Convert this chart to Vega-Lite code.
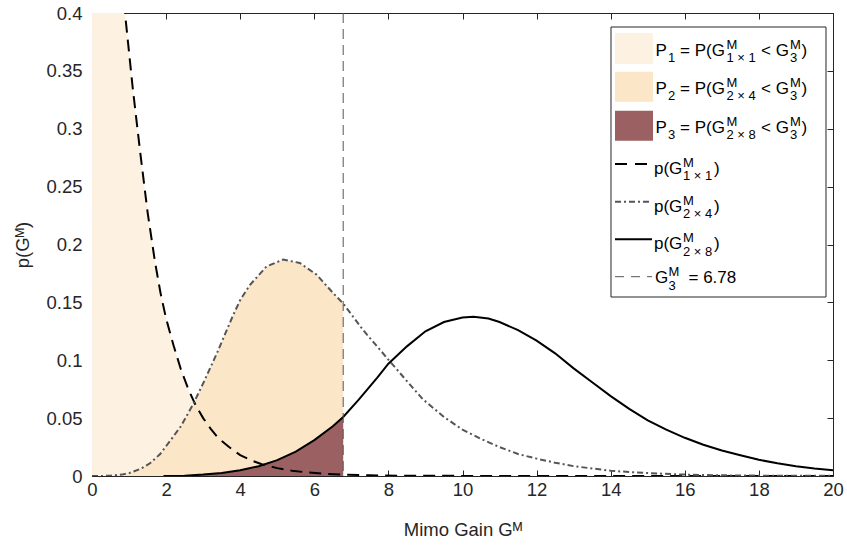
{
  "$schema": "https://vega.github.io/schema/vega-lite/v6.json",
  "width": 741,
  "height": 463,
  "autosize": {"type": "none"},
  "padding": {"left": 92, "top": 13, "right": 14, "bottom": 70},
  "background": "white",
  "config": {
    "font": "Liberation Sans",
    "view": {"stroke": null},
    "text": {"align": "left", "baseline": "alphabetic", "font": "Liberation Sans", "fontSize": 17, "color": "#000000"},
    "axis": {"grid": false, "domainColor": "#262626", "tickColor": "#262626", "labelColor": "#262626", "titleColor": "#262626", "labelFontSize": 18.5, "titleFontSize": 18.5, "titleFontWeight": "normal", "labelFont": "Liberation Sans", "titleFont": "Liberation Sans"}
  },
  "datasets": {
    "curves": [
      {"s": "L1", "x": 0, "y": 1.0},
      {"s": "L1", "x": 0.3, "y": 0.74},
      {"s": "L1", "x": 0.6, "y": 0.55},
      {"s": "L1", "x": 0.89, "y": 0.40},
      {"s": "L1", "x": 1.1, "y": 0.335},
      {"s": "L1", "x": 1.3, "y": 0.28},
      {"s": "L1", "x": 1.5, "y": 0.228},
      {"s": "L1", "x": 1.7, "y": 0.185},
      {"s": "L1", "x": 1.85, "y": 0.158},
      {"s": "L1", "x": 2.0, "y": 0.136},
      {"s": "L1", "x": 2.2, "y": 0.113},
      {"s": "L1", "x": 2.4, "y": 0.092},
      {"s": "L1", "x": 2.6, "y": 0.075},
      {"s": "L1", "x": 2.8, "y": 0.061},
      {"s": "L1", "x": 3.0, "y": 0.050},
      {"s": "L1", "x": 3.2, "y": 0.041},
      {"s": "L1", "x": 3.4, "y": 0.033},
      {"s": "L1", "x": 3.7, "y": 0.025},
      {"s": "L1", "x": 4.0, "y": 0.018},
      {"s": "L1", "x": 4.3, "y": 0.0135},
      {"s": "L1", "x": 4.6, "y": 0.010},
      {"s": "L1", "x": 5.0, "y": 0.0068},
      {"s": "L1", "x": 5.4, "y": 0.0046},
      {"s": "L1", "x": 5.8, "y": 0.0031},
      {"s": "L1", "x": 6.3, "y": 0.0019},
      {"s": "L1", "x": 6.78, "y": 0.0012},
      {"s": "L1", "x": 7.5, "y": 0.0006},
      {"s": "L1", "x": 8.5, "y": 0.0002},
      {"s": "L1", "x": 10, "y": 0.0001},
      {"s": "L1", "x": 12, "y": 0},
      {"s": "L1", "x": 14, "y": 0},
      {"s": "L1", "x": 16, "y": 0},
      {"s": "L1", "x": 18, "y": 0},
      {"s": "L1", "x": 20, "y": 0},
      {"s": "L2", "x": 0, "y": 0},
      {"s": "L2", "x": 0.3, "y": 0},
      {"s": "L2", "x": 0.5, "y": 0.0003},
      {"s": "L2", "x": 0.8, "y": 0.0012},
      {"s": "L2", "x": 1.0, "y": 0.0025},
      {"s": "L2", "x": 1.3, "y": 0.006},
      {"s": "L2", "x": 1.565, "y": 0.011},
      {"s": "L2", "x": 1.84, "y": 0.019},
      {"s": "L2", "x": 2.1, "y": 0.030},
      {"s": "L2", "x": 2.4, "y": 0.043},
      {"s": "L2", "x": 2.73, "y": 0.062},
      {"s": "L2", "x": 3.0, "y": 0.080},
      {"s": "L2", "x": 3.37, "y": 0.106},
      {"s": "L2", "x": 3.81, "y": 0.139},
      {"s": "L2", "x": 4.0, "y": 0.152},
      {"s": "L2", "x": 4.26, "y": 0.165},
      {"s": "L2", "x": 4.71, "y": 0.181},
      {"s": "L2", "x": 5.16, "y": 0.187},
      {"s": "L2", "x": 5.61, "y": 0.184},
      {"s": "L2", "x": 6.06, "y": 0.174},
      {"s": "L2", "x": 6.51, "y": 0.158},
      {"s": "L2", "x": 6.78, "y": 0.149},
      {"s": "L2", "x": 7.32, "y": 0.126},
      {"s": "L2", "x": 8.04, "y": 0.099},
      {"s": "L2", "x": 8.5, "y": 0.082},
      {"s": "L2", "x": 8.94, "y": 0.066},
      {"s": "L2", "x": 9.5, "y": 0.051},
      {"s": "L2", "x": 10.0, "y": 0.040},
      {"s": "L2", "x": 10.5, "y": 0.032},
      {"s": "L2", "x": 11.0, "y": 0.025},
      {"s": "L2", "x": 11.5, "y": 0.019},
      {"s": "L2", "x": 12.0, "y": 0.015},
      {"s": "L2", "x": 12.5, "y": 0.0115},
      {"s": "L2", "x": 13.0, "y": 0.0085},
      {"s": "L2", "x": 14.0, "y": 0.0045},
      {"s": "L2", "x": 15.0, "y": 0.0025},
      {"s": "L2", "x": 16.0, "y": 0.0012},
      {"s": "L2", "x": 17.0, "y": 0.0006},
      {"s": "L2", "x": 18.0, "y": 0.0003},
      {"s": "L2", "x": 20.0, "y": 0.0001},
      {"s": "L3", "x": 1.93, "y": 0},
      {"s": "L3", "x": 2.5, "y": 0.0003},
      {"s": "L3", "x": 3.0, "y": 0.0012},
      {"s": "L3", "x": 3.5, "y": 0.0025},
      {"s": "L3", "x": 4.0, "y": 0.0050},
      {"s": "L3", "x": 4.5, "y": 0.0085},
      {"s": "L3", "x": 5.0, "y": 0.0137},
      {"s": "L3", "x": 5.5, "y": 0.021},
      {"s": "L3", "x": 6.0, "y": 0.031},
      {"s": "L3", "x": 6.5, "y": 0.043},
      {"s": "L3", "x": 6.78, "y": 0.051},
      {"s": "L3", "x": 7.2, "y": 0.066},
      {"s": "L3", "x": 7.7, "y": 0.085},
      {"s": "L3", "x": 8.0, "y": 0.097},
      {"s": "L3", "x": 8.5, "y": 0.112},
      {"s": "L3", "x": 9.0, "y": 0.125},
      {"s": "L3", "x": 9.5, "y": 0.133},
      {"s": "L3", "x": 10.0, "y": 0.137},
      {"s": "L3", "x": 10.3, "y": 0.1375},
      {"s": "L3", "x": 10.7, "y": 0.136},
      {"s": "L3", "x": 11.0, "y": 0.133},
      {"s": "L3", "x": 11.5, "y": 0.126},
      {"s": "L3", "x": 12.0, "y": 0.117},
      {"s": "L3", "x": 12.5, "y": 0.106},
      {"s": "L3", "x": 13.0, "y": 0.093},
      {"s": "L3", "x": 13.5, "y": 0.081},
      {"s": "L3", "x": 14.0, "y": 0.069},
      {"s": "L3", "x": 14.5, "y": 0.058},
      {"s": "L3", "x": 15.0, "y": 0.048},
      {"s": "L3", "x": 15.5, "y": 0.040},
      {"s": "L3", "x": 16.0, "y": 0.033},
      {"s": "L3", "x": 16.5, "y": 0.027},
      {"s": "L3", "x": 17.0, "y": 0.022},
      {"s": "L3", "x": 17.5, "y": 0.018},
      {"s": "L3", "x": 18.0, "y": 0.014},
      {"s": "L3", "x": 18.5, "y": 0.011},
      {"s": "L3", "x": 19.0, "y": 0.0085},
      {"s": "L3", "x": 19.5, "y": 0.0065},
      {"s": "L3", "x": 20.0, "y": 0.005}
    ]
  },
  "data": {"name": "curves"},
  "layer": [
    {
      "transform": [{"filter": "datum.s == 'L1' && datum.x <= 6.78"}],
      "mark": {"type": "area", "clip": true, "color": "#fdf1e1"},
      "encoding": {
        "x": {"field": "x", "type": "quantitative", "scale": {"domain": [0, 20], "nice": false, "zero": false},
          "axis": {"orient": "bottom", "values": [0, 2, 4, 6, 8, 10, 12, 14, 16, 18, 20], "tickSize": -6, "labelPadding": 10, "labelFlush": false, "title": "Mimo Gain Gᴹ", "titlePadding": 22}},
        "y": {"field": "y", "type": "quantitative", "stack": null, "scale": {"domain": [0, 0.4], "nice": false},
          "axis": {"orient": "left", "values": [0, 0.05, 0.1, 0.15, 0.2, 0.25, 0.3, 0.35, 0.4], "format": ".2~f", "tickSize": -6, "labelPadding": 16, "labelFlush": false, "title": "p(Gᴹ)", "titlePadding": 13}}
      }
    },
    {
      "transform": [{"filter": "datum.s == 'L2' && datum.x <= 6.78"}],
      "mark": {"type": "area", "clip": true, "color": "#fbe6c8"},
      "encoding": {
        "x": {"field": "x", "type": "quantitative",
          "axis": {"orient": "top", "values": [0, 2, 4, 6, 8, 10, 12, 14, 16, 18, 20], "tickSize": -6, "labels": false, "title": null}},
        "y": {"field": "y", "type": "quantitative", "stack": null,
          "axis": {"orient": "right", "values": [0, 0.05, 0.1, 0.15, 0.2, 0.25, 0.3, 0.35, 0.4], "tickSize": -6, "labels": false, "title": null}}
      }
    },
    {
      "transform": [{"filter": "datum.s == 'L3' && datum.x <= 6.78"}],
      "mark": {"type": "area", "clip": true, "color": "#9a6062"},
      "encoding": {
        "x": {"field": "x", "type": "quantitative", "axis": null},
        "y": {"field": "y", "type": "quantitative", "stack": null, "axis": null}
      }
    },
    {
      "transform": [{"filter": "datum.s == 'L1'"}],
      "mark": {"type": "line", "clip": true, "color": "#000000", "strokeWidth": 2, "strokeDash": [12, 7]},
      "encoding": {
        "x": {"field": "x", "type": "quantitative", "axis": null},
        "y": {"field": "y", "type": "quantitative", "axis": null}
      }
    },
    {
      "transform": [{"filter": "datum.s == 'L2'"}],
      "mark": {"type": "line", "clip": true, "color": "#555555", "strokeWidth": 2, "strokeDash": [6, 3, 2, 3]},
      "encoding": {
        "x": {"field": "x", "type": "quantitative", "axis": null},
        "y": {"field": "y", "type": "quantitative", "axis": null}
      }
    },
    {
      "transform": [{"filter": "datum.s == 'L3'"}],
      "mark": {"type": "line", "clip": true, "color": "#000000", "strokeWidth": 2},
      "encoding": {
        "x": {"field": "x", "type": "quantitative", "axis": null},
        "y": {"field": "y", "type": "quantitative", "axis": null}
      }
    },
    {
      "data": {"values": [{}]},
      "encoding": {"x": {"datum": 15.1417, "type": "quantitative", "axis": null}},
      "layer": [
        {"mark": {"type": "rule", "color": "#555555", "strokeWidth": 1, "strokeDash": [10, 6]},
         "encoding": {"x": {"datum": 6.78, "type": "quantitative", "axis": null}}},
        {"mark": {"type": "rect", "fill": "#ffffff", "stroke": "#262626", "strokeWidth": 1},
         "encoding": {"x": {"datum": 14.008, "type": "quantitative", "axis": null}, "x2": {"datum": 19.811},
                      "y": {"datum": 0.3879, "type": "quantitative", "axis": null}, "y2": {"datum": 0.15464}}},
        {"mark": {"type": "rect", "fill": "#fdf1e1"},
         "encoding": {"x": {"datum": 14.116, "type": "quantitative", "axis": null}, "x2": {"datum": 15.142},
                      "y": {"datum": 0.38272, "type": "quantitative", "axis": null}, "y2": {"datum": 0.35594}}},
        {"mark": {"type": "rect", "fill": "#fbe6c8"},
         "encoding": {"x": {"datum": 14.116, "type": "quantitative", "axis": null}, "x2": {"datum": 15.142},
                      "y": {"datum": 0.34929, "type": "quantitative", "axis": null}, "y2": {"datum": 0.32337}}},
        {"mark": {"type": "rect", "fill": "#9a6062"},
         "encoding": {"x": {"datum": 14.116, "type": "quantitative", "axis": null}, "x2": {"datum": 15.142},
                      "y": {"datum": 0.3156, "type": "quantitative", "axis": null}, "y2": {"datum": 0.28968}}},
        {"mark": {"type": "rule", "color": "#000000", "strokeWidth": 2, "strokeDash": [12, 8]},
         "encoding": {"x": {"datum": 14.116, "type": "quantitative", "axis": null}, "x2": {"datum": 15.115},
                      "y": {"datum": 0.26955, "type": "quantitative", "axis": null}}},
        {"mark": {"type": "rule", "color": "#555555", "strokeWidth": 2, "strokeDash": [6, 3, 2, 3]},
         "encoding": {"x": {"datum": 14.116, "type": "quantitative", "axis": null}, "x2": {"datum": 15.115},
                      "y": {"datum": 0.23698, "type": "quantitative", "axis": null}}},
        {"mark": {"type": "rule", "color": "#000000", "strokeWidth": 2},
         "encoding": {"x": {"datum": 14.116, "type": "quantitative", "axis": null}, "x2": {"datum": 15.115},
                      "y": {"datum": 0.20449, "type": "quantitative", "axis": null}}},
        {"mark": {"type": "rule", "color": "#555555", "strokeWidth": 1, "strokeDash": [9, 7]},
         "encoding": {"x": {"datum": 14.116, "type": "quantitative", "axis": null}, "x2": {"datum": 15.115},
                      "y": {"datum": 0.17218, "type": "quantitative", "axis": null}}},

        {"mark": {"type": "text", "text": "P", "dx": 2.5}, "encoding": {"y": {"datum": 0.36328, "type": "quantitative", "axis": null}}},
        {"mark": {"type": "text", "text": "1", "dx": 15, "dy": 6.5, "fontSize": 13}, "encoding": {"y": {"datum": 0.36328, "type": "quantitative", "axis": null}}},
        {"mark": {"type": "text", "text": "= P(G", "dx": 27}, "encoding": {"y": {"datum": 0.36328, "type": "quantitative", "axis": null}}},
        {"mark": {"type": "text", "text": "M", "dx": 73.5, "dy": -7, "fontSize": 13}, "encoding": {"y": {"datum": 0.36328, "type": "quantitative", "axis": null}}},
        {"mark": {"type": "text", "text": "1 × 1", "dx": 73.5, "dy": 6.5, "fontSize": 13}, "encoding": {"y": {"datum": 0.36328, "type": "quantitative", "axis": null}}},
        {"mark": {"type": "text", "text": "< G", "dx": 108}, "encoding": {"y": {"datum": 0.36328, "type": "quantitative", "axis": null}}},
        {"mark": {"type": "text", "text": "M", "dx": 137, "dy": -7, "fontSize": 13}, "encoding": {"y": {"datum": 0.36328, "type": "quantitative", "axis": null}}},
        {"mark": {"type": "text", "text": "3", "dx": 137, "dy": 6.5, "fontSize": 13}, "encoding": {"y": {"datum": 0.36328, "type": "quantitative", "axis": null}}},
        {"mark": {"type": "text", "text": ")", "dx": 148.5}, "encoding": {"y": {"datum": 0.36328, "type": "quantitative", "axis": null}}},

        {"mark": {"type": "text", "text": "P", "dx": 2.5}, "encoding": {"y": {"datum": 0.33028, "type": "quantitative", "axis": null}}},
        {"mark": {"type": "text", "text": "2", "dx": 15, "dy": 6.5, "fontSize": 13}, "encoding": {"y": {"datum": 0.33028, "type": "quantitative", "axis": null}}},
        {"mark": {"type": "text", "text": "= P(G", "dx": 27}, "encoding": {"y": {"datum": 0.33028, "type": "quantitative", "axis": null}}},
        {"mark": {"type": "text", "text": "M", "dx": 73.5, "dy": -7, "fontSize": 13}, "encoding": {"y": {"datum": 0.33028, "type": "quantitative", "axis": null}}},
        {"mark": {"type": "text", "text": "2 × 4", "dx": 73.5, "dy": 6.5, "fontSize": 13}, "encoding": {"y": {"datum": 0.33028, "type": "quantitative", "axis": null}}},
        {"mark": {"type": "text", "text": "< G", "dx": 108}, "encoding": {"y": {"datum": 0.33028, "type": "quantitative", "axis": null}}},
        {"mark": {"type": "text", "text": "M", "dx": 137, "dy": -7, "fontSize": 13}, "encoding": {"y": {"datum": 0.33028, "type": "quantitative", "axis": null}}},
        {"mark": {"type": "text", "text": "3", "dx": 137, "dy": 6.5, "fontSize": 13}, "encoding": {"y": {"datum": 0.33028, "type": "quantitative", "axis": null}}},
        {"mark": {"type": "text", "text": ")", "dx": 148.5}, "encoding": {"y": {"datum": 0.33028, "type": "quantitative", "axis": null}}},

        {"mark": {"type": "text", "text": "P", "dx": 2.5}, "encoding": {"y": {"datum": 0.29659, "type": "quantitative", "axis": null}}},
        {"mark": {"type": "text", "text": "3", "dx": 15, "dy": 6.5, "fontSize": 13}, "encoding": {"y": {"datum": 0.29659, "type": "quantitative", "axis": null}}},
        {"mark": {"type": "text", "text": "= P(G", "dx": 27}, "encoding": {"y": {"datum": 0.29659, "type": "quantitative", "axis": null}}},
        {"mark": {"type": "text", "text": "M", "dx": 73.5, "dy": -7, "fontSize": 13}, "encoding": {"y": {"datum": 0.29659, "type": "quantitative", "axis": null}}},
        {"mark": {"type": "text", "text": "2 × 8", "dx": 73.5, "dy": 6.5, "fontSize": 13}, "encoding": {"y": {"datum": 0.29659, "type": "quantitative", "axis": null}}},
        {"mark": {"type": "text", "text": "< G", "dx": 108}, "encoding": {"y": {"datum": 0.29659, "type": "quantitative", "axis": null}}},
        {"mark": {"type": "text", "text": "M", "dx": 137, "dy": -7, "fontSize": 13}, "encoding": {"y": {"datum": 0.29659, "type": "quantitative", "axis": null}}},
        {"mark": {"type": "text", "text": "3", "dx": 137, "dy": 6.5, "fontSize": 13}, "encoding": {"y": {"datum": 0.29659, "type": "quantitative", "axis": null}}},
        {"mark": {"type": "text", "text": ")", "dx": 148.5}, "encoding": {"y": {"datum": 0.29659, "type": "quantitative", "axis": null}}},

        {"mark": {"type": "text", "text": "p(G", "dx": 1}, "encoding": {"y": {"datum": 0.26091, "type": "quantitative", "axis": null}}},
        {"mark": {"type": "text", "text": "M", "dx": 30, "dy": -7, "fontSize": 13}, "encoding": {"y": {"datum": 0.26091, "type": "quantitative", "axis": null}}},
        {"mark": {"type": "text", "text": "1 × 1", "dx": 30, "dy": 6.5, "fontSize": 13}, "encoding": {"y": {"datum": 0.26091, "type": "quantitative", "axis": null}}},
        {"mark": {"type": "text", "text": ")", "dx": 61}, "encoding": {"y": {"datum": 0.26091, "type": "quantitative", "axis": null}}},

        {"mark": {"type": "text", "text": "p(G", "dx": 1}, "encoding": {"y": {"datum": 0.22834, "type": "quantitative", "axis": null}}},
        {"mark": {"type": "text", "text": "M", "dx": 30, "dy": -7, "fontSize": 13}, "encoding": {"y": {"datum": 0.22834, "type": "quantitative", "axis": null}}},
        {"mark": {"type": "text", "text": "2 × 4", "dx": 30, "dy": 6.5, "fontSize": 13}, "encoding": {"y": {"datum": 0.22834, "type": "quantitative", "axis": null}}},
        {"mark": {"type": "text", "text": ")", "dx": 61}, "encoding": {"y": {"datum": 0.22834, "type": "quantitative", "axis": null}}},

        {"mark": {"type": "text", "text": "p(G", "dx": 1}, "encoding": {"y": {"datum": 0.19585, "type": "quantitative", "axis": null}}},
        {"mark": {"type": "text", "text": "M", "dx": 30, "dy": -7, "fontSize": 13}, "encoding": {"y": {"datum": 0.19585, "type": "quantitative", "axis": null}}},
        {"mark": {"type": "text", "text": "2 × 8", "dx": 30, "dy": 6.5, "fontSize": 13}, "encoding": {"y": {"datum": 0.19585, "type": "quantitative", "axis": null}}},
        {"mark": {"type": "text", "text": ")", "dx": 61}, "encoding": {"y": {"datum": 0.19585, "type": "quantitative", "axis": null}}},

        {"mark": {"type": "text", "text": "G", "dx": 2}, "encoding": {"y": {"datum": 0.16631, "type": "quantitative", "axis": null}}},
        {"mark": {"type": "text", "text": "M", "dx": 15.5, "dy": -7, "fontSize": 13}, "encoding": {"y": {"datum": 0.16631, "type": "quantitative", "axis": null}}},
        {"mark": {"type": "text", "text": "3", "dx": 15.5, "dy": 6.5, "fontSize": 13}, "encoding": {"y": {"datum": 0.16631, "type": "quantitative", "axis": null}}},
        {"mark": {"type": "text", "text": "= 6.78", "dx": 35.5}, "encoding": {"y": {"datum": 0.16631, "type": "quantitative", "axis": null}}}
      ]
    }
  ],
  "resolve": {"axis": {"x": "independent", "y": "independent"}}
}
